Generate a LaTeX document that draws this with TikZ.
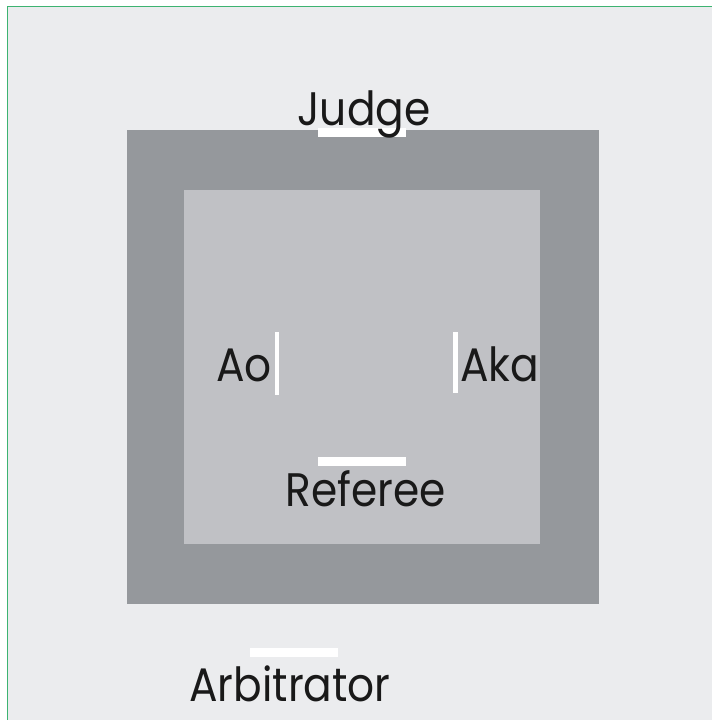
\documentclass[tikz,border=0pt]{standalone}
\usepackage{fontspec}
\setmainfont{Poppins}[FakeStretch=0.9]
\definecolor{pagegray}{HTML}{EBECEE}
\definecolor{outergray}{HTML}{95989C}
\definecolor{innergray}{HTML}{C0C1C5}
\definecolor{edgegreen}{HTML}{3DB371}
\begin{document}
\begin{tikzpicture}[x=1pt, y=-1pt,
    rolename/.style={inner sep=0pt, font=\fontsize{47}{50}\selectfont, text=black!90},
    markbar/.style={fill=white, draw=none}]
  \useasboundingbox (0,0) rectangle (712,720);
  \fill[white] (0,0) rectangle (712,720);
  \fill[pagegray] (7.5,6.5) rectangle (712,720);
  \draw[edgegreen, line width=1pt] (7.5,720) -- (7.5,6.5) -- (712,6.5);
  % the two areas
  \fill[outergray] (127,130) rectangle (599,604);
  \fill[innergray] (184,190) rectangle (540,544);
  % white marks
  \fill[markbar] (318,128) rectangle (406,137);
  \fill[markbar] (275,332) rectangle (279,395);
  \fill[markbar] (453,332) rectangle (458,393);
  \fill[markbar] (318,457) rectangle (406,466);
  \fill[markbar] (250,648) rectangle (338,657);
  % names
  \node (judge)   [rolename, anchor=base]      at (364,125) {Judge};
  \node (ao)      [rolename, anchor=base east] at (272,381) {Ao};
  \node (aka)     [rolename, anchor=base west] at (460,381) {Aka};
  \node (referee) [rolename, anchor=base]      at (366,506) {Referee};
  \node (arb)     [rolename, anchor=base]      at (290,701) {Arbitrator};
\end{tikzpicture}
\end{document}
